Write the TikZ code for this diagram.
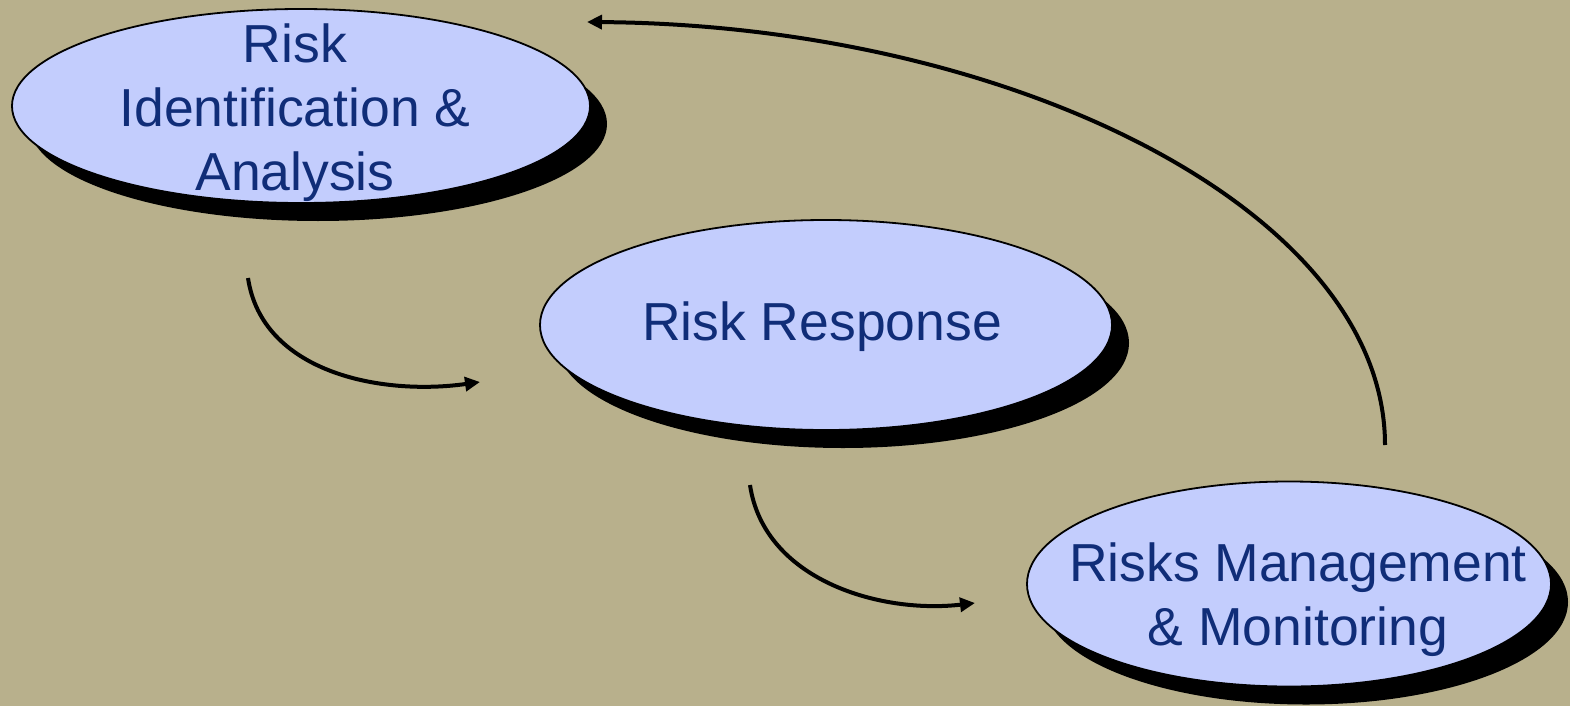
\documentclass[tikz,border=0pt]{standalone}
\usepackage{fontspec}
\setmainfont{Liberation Sans}
\usetikzlibrary{shapes.geometric,arrows.meta,shadows}
\definecolor{bgtan}{HTML}{B8B08C}
\definecolor{bubble}{HTML}{C3CDFD}
\definecolor{ink}{HTML}{102D78}
\tikzset{
  bubblenode/.style={ellipse, draw=black, line width=1.8pt, fill=bubble, inner sep=0pt,
    drop shadow={shadow xshift=17pt, shadow yshift=-18pt, fill=black, opacity=1}},
  label/.style={text=ink, align=center, inner sep=0pt,
    font=\fontsize{53.5}{64}\selectfont},
  flow/.style={line width=4pt, -{Triangle[length=15pt,width=14pt]}}
}
\begin{document}
\begin{tikzpicture}[x=1pt,y=-1pt]
  \fill[bgtan] (0,0) rectangle (1570,706);
  \useasboundingbox (0,0) rectangle (1570,706);

  % the three stages
  \node[bubblenode, minimum width=578pt, minimum height=194pt] (ident) at (301,106) {};
  \node[bubblenode, minimum width=572pt, minimum height=210pt] (resp) at (826,325) {};
  \node[bubblenode, minimum width=524pt, minimum height=205pt] (mon) at (1289,584) {};

  \node[label] (identtxt) at (295,113) {Risk\\Identification \&\\Analysis};
  \node[label] (resptxt) at (822,327) {Risk Response};
  \node[label] (montxt) at (1298,600) {Risks Management\\\& Monitoring};

  % loose ends of the connectors
  \coordinate (a1s) at (248,278);
  \coordinate (a1e) at (480,382);
  \coordinate (a2s) at (750,485);
  \coordinate (a2e) at (975,603);
  \coordinate (a3s) at (1385,445);
  \coordinate (a3e) at (587,22);

  \draw[flow] (a1s) .. controls (262,372) and (380,396) .. (a1e);
  \draw[flow] (a2s) .. controls (764,580) and (880,614) .. (a2e);
  \draw[flow] (a3s) .. controls (1385,210) and (1010,25) .. (a3e);
\end{tikzpicture}
\end{document}
